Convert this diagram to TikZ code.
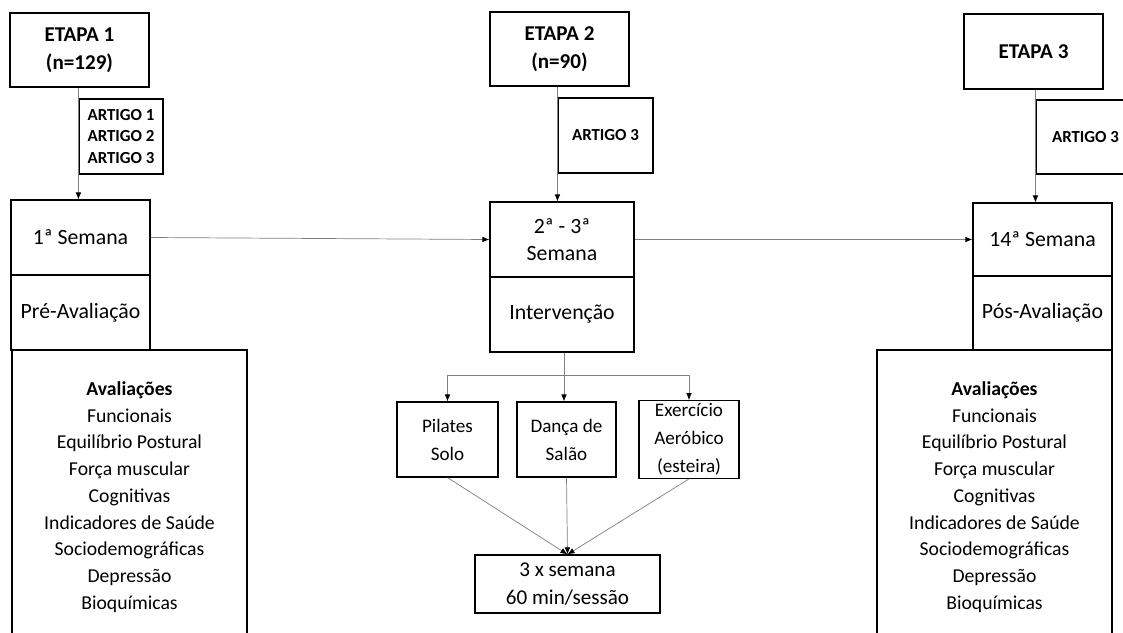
\documentclass[tikz,border=0pt]{standalone}
\usepackage{fontspec}
\setmainfont{Carlito}
\usetikzlibrary{arrows.meta, positioning}

\tikzset{
  box/.style={draw, line width=0.8pt, align=center, inner sep=2pt},
  stage/.style={box, minimum width=3.475cm, minimum height=1.85cm, font=\fontsize{15}{20}\selectfont\bfseries},
  artigo/.style={box, minimum height=1.875cm, font=\fontsize{12}{15.5}\selectfont\bfseries},
  week/.style={box, minimum width=3.475cm, minimum height=1.875cm, font=\fontsize{15.5}{19}\selectfont},
  groupbox/.style={box, minimum width=2.5cm, minimum height=1.875cm, font=\fontsize{13.6}{20}\selectfont},
  aval/.style={box, minimum width=5.875cm, minimum height=7.35cm, font=\fontsize{14}{19}\selectfont},
  link/.style={draw=black!50, line width=0.5pt},
}

\begin{document}
\begin{tikzpicture}[x=0.025cm, y=-0.025cm, >={Latex[length=5pt,width=4pt,color=black]}]

\useasboundingbox (0,0) rectangle (1123,632);
\clip (0,0) rectangle (1123,632);

% etapa 1
\node[stage] (E1) at (79.5, 50) {ETAPA 1\\(n=129)};
\node[artigo, minimum width=2.1cm] (A1) at (121, 136.5) {ARTIGO 1\\ARTIGO 2\\ARTIGO 3};
\node[week] (S1) at (80.5, 237.5) {1ª Semana};
\node[week] (P1) at (80.5, 312.5) {Pré-Avaliação};
\node[aval] (V1) at (129.5, 497) {{\bfseries Avaliações}\\Funcionais\\Equilíbrio Postural\\Força muscular\\Cognitivas\\Indicadores de Saúde\\Sociodemográficas\\Depressão\\Bioquímicas};

% etapa 2
\node[stage] (E2) at (559.5, 49) {ETAPA 2\\(n=90)};
\node[artigo, minimum width=2.375cm] (A2) at (605.5, 135.5) {ARTIGO 3};
\node[week, minimum width=3.6cm] (S2) at (562, 239.5) {2ª - 3ª\\Semana};
\node[week, minimum width=3.6cm] (I2) at (562, 314.5) {Intervenção};
\node[groupbox, minimum width=2.525cm] (G1) at (447.5, 439.5) {Pilates\\Solo};
\node[groupbox, minimum width=2.475cm] (G2) at (566.5, 439.5) {Dança de\\Salão};
\node[groupbox] (G3) at (689, 439.5) {Exercício\\Aeróbico\\(esteira)};
\node[box, minimum width=4.625cm, minimum height=1.45cm, font=\fontsize{15}{20}\selectfont] (F2) at (567.5, 584) {3 x semana\\60 min/sessão};
\coordinate (split) at (564, 375);

% etapa 3
\node[stage, minimum height=1.875cm] (E3) at (1033.5, 51.5) {ETAPA 3};
\node[artigo, minimum width=2.475cm, minimum height=1.85cm] (A3) at (1085.5, 137) {ARTIGO 3};
\node[week, minimum height=1.825cm] (S3) at (1042.5, 239.5) {14ª Semana};
\node[week, minimum height=1.85cm] (P3) at (1042.5, 313) {Pós-Avaliação};
\node[aval] (V3) at (994.5, 497) {{\bfseries Avaliações}\\Funcionais\\Equilíbrio Postural\\Força muscular\\Cognitivas\\Indicadores de Saúde\\Sociodemográficas\\Depressão\\Bioquímicas};

% arrows
\draw [link, ->] (E1.south -| A1.west) -- (S1.north -| A1.west);
\draw [link, ->] (E2.south -| A2.west) -- (S2.north -| A2.west);
\draw [link, ->] (E3.south -| A3.west) -- (S3.north -| A3.west);

\draw [link, ->] (S1.east) -- (S2.west);
\draw [link, ->] (S2.east) -- (S3.west);

\draw [link] (I2.south -| split) -- (split);
\draw [link, ->] (split) -| (G1.north);
\draw [link, ->] (split) -- (split |- G2.north);
\draw [link, ->] (split) -| (G3.north);

\draw [link, ->] (G1.south) -- (F2.north);
\draw [link, ->] (G2.south) -- (F2.north);
\draw [link, ->] (G3.south) -- (F2.north);

\end{tikzpicture}
\end{document}
